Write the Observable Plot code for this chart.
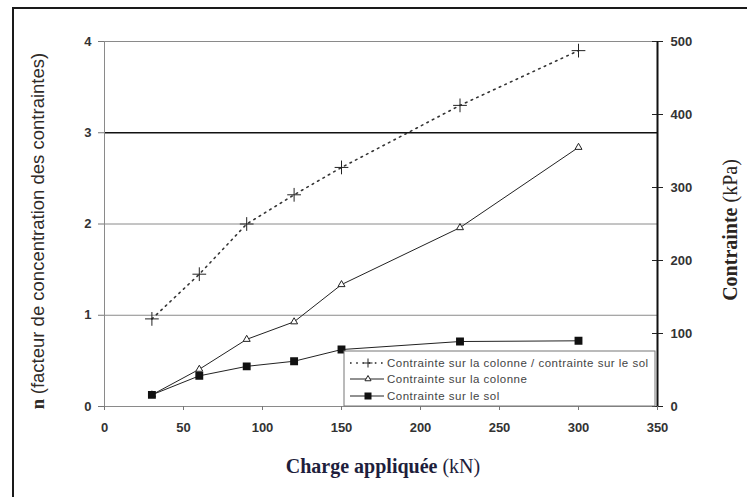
<!DOCTYPE html>
<html>
<head>
<meta charset="utf-8">
<script src="https://cdn.jsdelivr.net/npm/d3@7"></script>
<script src="https://cdn.jsdelivr.net/npm/@observablehq/plot@0.6"></script>
<style>
  html, body { margin: 0; padding: 0; background: #fff; }
  #wrap { position: relative; width: 747px; height: 497px; overflow: hidden; }
  #frame { position: absolute; left: 12px; top: 7px; right: -10px; bottom: -10px;
           border-left: 2px solid #1a1a1a; border-top: 2px solid #1a1a1a; pointer-events: none; }
  #wrap svg g[aria-label*="tick label"] text { font-weight: bold; }
</style>
</head>
<body>
<div id="wrap"><div id="frame"></div></div>
<script>
// Applied load (kN)
const charge = [30, 60, 90, 120, 150, 225, 300];
// Stress concentration factor n (left axis)
const facteurN = [0.96, 1.45, 2.0, 2.32, 2.62, 3.3, 3.9];
// Stresses in kPa (right axis)
const colonneKPa = [16, 51, 92, 116, 167, 245, 355];
const solKPa = [16, 42, 55, 62, 78, 89, 90];

const xTicks = [0, 50, 100, 150, 200, 250, 300, 350];
const nTicks = [0, 1, 2, 3, 4];
const kpaTicks = [0, 100, 200, 300, 400, 500];

const legendLabels = [
  "Contrainte sur la colonne / contrainte sur le sol",
  "Contrainte sur la colonne",
  "Contrainte sur le sol"
];

// the right axis shares the plot: 500 kPa sits level with n = 4
const K = 500 / 4;

const rows = charge.map((c, i) => ({
  charge: c,
  n: facteurN[i],
  colonne: colonneKPa[i] / K,
  sol: solKPa[i] / K
}));

const xMax = xTicks[xTicks.length - 1];
const sans = "Liberation Sans, Arial, sans-serif";
const serif = "Liberation Serif, Times New Roman, serif";
const dotted = "1.6,4.6";
const axisText = {fontFamily: sans, fontSize: 13, fontWeight: "bold", fill: "#333", label: null};

const chart = Plot.plot({
  width: 747,
  height: 497,
  marginLeft: 104,
  marginRight: 90,
  marginTop: 41,
  marginBottom: 91,
  style: {background: "transparent", fontFamily: sans, fontSize: "13px", color: "#333"},
  x: {domain: [0, xMax]},
  y: {domain: [0, 4]},
  marks: [
    // horizontal gridlines; the n = 3 line is drawn heavier
    Plot.ruleY(nTicks.filter(d => d !== 0 && d !== 3), {stroke: "#8a8a8a", strokeWidth: 1}),
    Plot.ruleY([3], {stroke: "#111", strokeWidth: 1.7}),
    Plot.ruleX([0], {stroke: "#8a8a8a"}),
    Plot.ruleY([0], {stroke: "#8a8a8a"}),
    Plot.ruleX([xMax], {stroke: "#111", strokeWidth: 2}),
    // axes
    Plot.axisX({...axisText, ticks: xTicks, tickSize: 4, tickPadding: 12, stroke: "#777"}),
    Plot.axisY({...axisText, ticks: nTicks, tickFormat: d => String(d), tickSize: 6, tickPadding: 7, stroke: "#777"}),
    Plot.axisY({...axisText, anchor: "right", ticks: kpaTicks.map(v => v / K), tickFormat: d => String(Math.round(d * K)),
                tickSize: 5, tickPadding: 8, stroke: "#222"}),
    // inward half of the right-axis ticks
    Plot.ruleY(kpaTicks.map(v => v / K), {x1: xMax, x2: xMax, insetLeft: -5, stroke: "#222"}),
    // n series
    Plot.line(rows, {x: "charge", y: "n", stroke: "#333", strokeWidth: 1.6, strokeDasharray: dotted}),
    Plot.dot(rows, {x: "charge", y: "n", symbol: "plus", r: 4.5, stroke: "#222", strokeWidth: 1}),
    // column stress
    Plot.line(rows, {x: "charge", y: "colonne", stroke: "#222", strokeWidth: 1}),
    Plot.dot(rows, {x: "charge", y: "colonne", symbol: "triangle", r: 2.6, fill: "#fff", stroke: "#222", strokeWidth: 1}),
    // soil stress
    Plot.line(rows, {x: "charge", y: "sol", stroke: "#222", strokeWidth: 1}),
    Plot.dot(rows, {x: "charge", y: "sol", symbol: "square", r: 3.6, fill: "#111", stroke: "#111"})
  ]
});

document.getElementById("wrap").appendChild(chart);

const svg = d3.select(chart);
const xs = chart.scale("x"), ys = chart.scale("y");

// legend box in the lower right corner of the plot
const lgLeft = 344, lgTop = 351;
const lgRight = xs.apply(xMax) - 2, lgBottom = ys.apply(0);
const lg = svg.append("g").attr("text-anchor", "start");
lg.append("rect")
  .attr("x", lgLeft).attr("y", lgTop)
  .attr("width", lgRight - lgLeft).attr("height", lgBottom - lgTop)
  .attr("fill", "#fff").attr("stroke", "#777").attr("stroke-width", 1);
const rowY = [363, 379, 396];
legendLabels.forEach((label, i) => {
  const y = rowY[i];
  const line = lg.append("line")
    .attr("x1", 350).attr("x2", 384).attr("y1", y).attr("y2", y)
    .attr("stroke", "#222");
  if (i === 0) line.attr("stroke-dasharray", dotted).attr("stroke-width", 1.6);
  const mx = 368;
  if (i === 0) {
    lg.append("path").attr("d", `M${mx - 4.5},${y}h9M${mx},${y - 4.5}v9`).attr("stroke", "#222");
  } else if (i === 1) {
    lg.append("path").attr("d", d3.symbol(d3.symbolTriangle, 16)()).attr("transform", `translate(${mx},${y})`)
      .attr("fill", "#fff").attr("stroke", "#222");
  } else {
    lg.append("rect").attr("x", mx - 3.5).attr("y", y - 3.5).attr("width", 7).attr("height", 7).attr("fill", "#111");
  }
  lg.append("text").attr("x", 387).attr("y", y).attr("dy", "0.35em").attr("text-anchor", "start")
    .attr("font-family", sans).attr("font-size", 11.5).attr("letter-spacing", 0.5)
    .attr("font-weight", "normal").attr("fill", "#444").text(label);
});

// left axis title
const lt = svg.append("text")
  .attr("transform", "translate(38,231) rotate(-90)")
  .attr("text-anchor", "middle").attr("dy", "0.35em")
  .attr("fill", "#2f2b28").attr("font-size", 18.5);
lt.append("tspan").attr("font-weight", "bold").attr("font-family", serif).text("n ");
lt.append("tspan").attr("font-weight", "normal").attr("font-family", sans)
  .text("(facteur de concentration des contraintes)");

// right axis title
const rt = svg.append("text")
  .attr("transform", "translate(730,230) rotate(-90)")
  .attr("text-anchor", "middle").attr("dy", "0.35em")
  .attr("fill", "#2a2420").attr("font-size", 20).attr("font-family", serif);
rt.append("tspan").attr("font-weight", "bold").text("Contrainte ");
rt.append("tspan").attr("font-weight", "normal").text("(kPa)");

// x axis title
const bt = svg.append("text")
  .attr("x", 383).attr("y", 473).attr("text-anchor", "middle")
  .attr("fill", "#1e1e3c").attr("font-size", 20).attr("font-family", serif);
bt.append("tspan").attr("font-weight", "bold").text("Charge appliquée ");
bt.append("tspan").attr("font-weight", "normal").text("(kN)");
</script>
</body>
</html>
